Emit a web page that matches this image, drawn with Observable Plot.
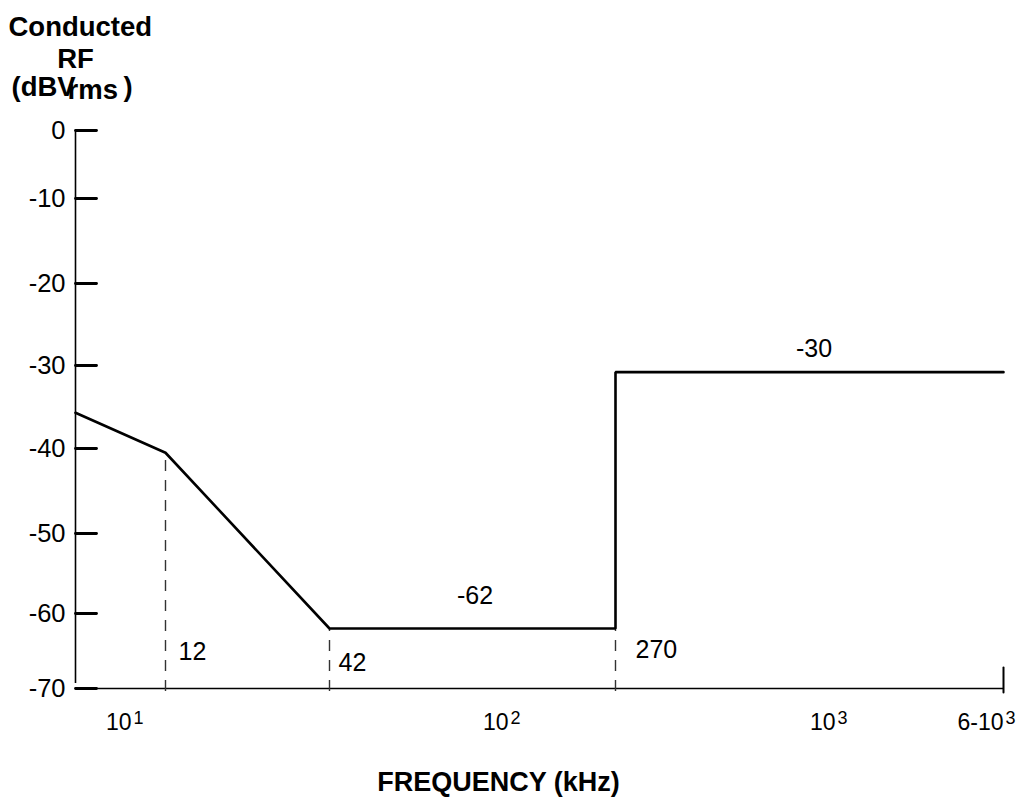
<!DOCTYPE html>
<html><head><meta charset="utf-8">
<script src="https://cdn.jsdelivr.net/npm/d3@7"></script>
<script src="https://cdn.jsdelivr.net/npm/@observablehq/plot@0.6"></script>
<style>body{margin:0;background:#fff}</style>
</head><body><div id="chart"></div>
<script>
// Data
const lineFreq = [8, 12, 42, 270, 270, 6000];
const lineDb = [-35.7, -40.5, -62, -62, -30.8, -30.8];
const breakFreq = [12, 42, 270];
const breakDb = [-40.5, -62, -62];
const breakLabels = ["12", "42", "270"];
const levelFreq = [85, 880];
const levelDb = [-62, -30.8];
const levelLabels = ["-62", "-30"];
const yTicks = [0, -10, -20, -30, -40, -50, -60, -70];
const xTickFreq = [10, 100, 1000, 6000];
const xTickBase = ["10", "10", "10", "6-10"];
const xTickExp = ["1", "2", "3", "3"];
const xScaleFreq = [8, 10, 12, 42, 100, 270, 1000, 6000];
const yScaleDb = [-70, -60, -50, -40, -30, -20, -10, 0];

const line = lineFreq.map((f, i) => ({f, db: lineDb[i]}));
const breaks = breakFreq.map((f, i) => ({f, db: breakDb[i], label: breakLabels[i]}));
const levels = levelFreq.map((f, i) => ({f, db: levelDb[i], label: levelLabels[i]}));
const xTicks = xTickFreq.map((f, i) => ({f, base: xTickBase[i], exp: xTickExp[i]}));

// the hand-drawn axis has uneven tick spacing: warp the dB values piecewise
const yPx = [688, 613, 533, 448, 365, 283, 198, 130];
const yWarp = d3.scaleLinear().domain(yScaleDb).range(yPx.map(p => -70 + (688 - p) * 70 / (688 - 130)));

const tickShape = {draw(context, l) { context.moveTo(0, 0); context.lineTo(0, -l); }};
const FONT = "'Liberation Sans', Arial, sans-serif";
const breakDx = [13, 9, 20];
const breakDy = [-29, -18, -31];
const levelDy = [-25, -15];

const chart = Plot.plot({
  width: 1025, height: 797,
  marginLeft: 75, marginRight: 22, marginTop: 130, marginBottom: 109,
  x: {type: "log", domain: xScaleFreq, range: [75, 131, 165, 329, 508, 615, 835, 1003], axis: null},
  y: {type: "linear", transform: yWarp, domain: [-70, 0], range: [688, 130], axis: null},
  style: {fontFamily: FONT, fontSize: "24px", color: "black", background: "white"},
  marks: [
    // axes lines
    Plot.ruleY([-70], {stroke: "black", strokeWidth: 1.6}),
    Plot.ruleX([xScaleFreq[0]], {y1: -70, y2: 0, insetTop: -5, stroke: "black", strokeWidth: 1.6}),
    // y ticks (inward)
    Plot.vector(yTicks, {y: d => d, frameAnchor: "left", length: 21, rotate: 90, anchor: "start", shape: tickShape, stroke: "black", strokeWidth: 2.8}),
    Plot.text(yTicks, {y: d => d, text: d => String(d), frameAnchor: "left", textAnchor: "end", dx: -10, fontSize: 25.5, fontFamily: FONT}),
    // end tick on x axis
    Plot.vector([xTickFreq[xTickFreq.length - 1]], {x: d => d, frameAnchor: "bottom", length: 25, anchor: "start", dy: 4, shape: tickShape, stroke: "black", strokeWidth: 2}),
    // x tick labels
    Plot.text(xTicks, {x: "f", text: "base", frameAnchor: "bottom", textAnchor: "end", lineAnchor: "bottom", dy: 41, dx: 0, fontSize: 23, fontFamily: FONT}),
    Plot.text(xTicks, {x: "f", text: "exp", frameAnchor: "bottom", textAnchor: "start", lineAnchor: "bottom", dy: 35, dx: 2, fontSize: 18, fontFamily: FONT}),
    // dashed break lines
    Plot.ruleX(breaks, {x: "f", y1: -70, y2: "db", insetTop: 3, stroke: "#333", strokeWidth: 1.4, strokeDasharray: "11,9"}),
    ...breaks.map((b, i) => Plot.text([b], {x: "f", y: -70, text: "label", textAnchor: "start", lineAnchor: "bottom", dx: breakDx[i], dy: breakDy[i], fontSize: 25, fontFamily: FONT})),
    // main line
    Plot.line(line, {x: "f", y: "db", stroke: "black", strokeWidth: 2.6, strokeLinejoin: "miter"}),
    ...levels.map((l, i) => Plot.text([l], {x: "f", y: "db", text: "label", textAnchor: "middle", lineAnchor: "bottom", dy: levelDy[i], fontSize: 25, fontFamily: FONT})),
    // titles
    Plot.text(["Conducted"], {frameAnchor: "top-left", text: d => d, textAnchor: "start", lineAnchor: "bottom", dx: -67, dy: -95, fontSize: 27.5, fontWeight: "bold", fontFamily: FONT}),
    Plot.text(["RF"], {frameAnchor: "top-left", text: d => d, textAnchor: "middle", lineAnchor: "bottom", dx: 0, dy: -63, fontSize: 27.5, fontWeight: "bold", fontFamily: FONT}),
    Plot.text(["(dBV"], {frameAnchor: "top-left", text: d => d, textAnchor: "start", lineAnchor: "bottom", dx: -64, dy: -35, fontSize: 27.5, fontWeight: "bold", fontFamily: FONT}),
    Plot.text(["rms"], {frameAnchor: "top-left", text: d => d, textAnchor: "start", lineAnchor: "bottom", dx: -8, dy: -32, fontSize: 27.5, fontWeight: "bold", fontFamily: FONT}),
    Plot.text([")"], {frameAnchor: "top-left", text: d => d, textAnchor: "start", lineAnchor: "bottom", dx: 48, dy: -35, fontSize: 27.5, fontWeight: "bold", fontFamily: FONT}),
    Plot.text(["FREQUENCY (kHz)"], {frameAnchor: "bottom", text: d => d, textAnchor: "middle", lineAnchor: "bottom", dx: -41, dy: 102, fontSize: 27, fontWeight: "bold", fontFamily: FONT})
  ]
});
document.getElementById("chart").appendChild(chart);
</script>
</body></html>
